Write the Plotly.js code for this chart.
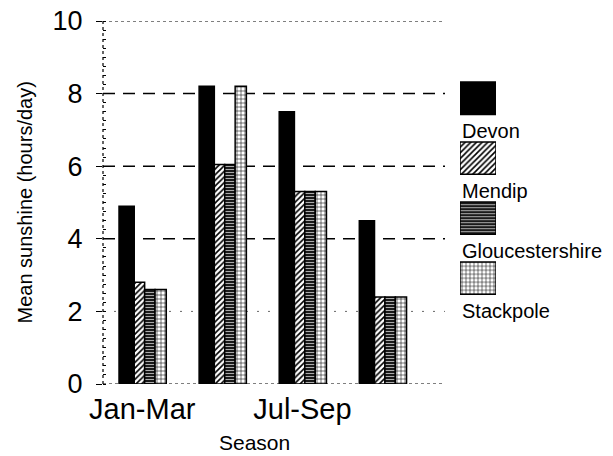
<!DOCTYPE html>
<html><head><meta charset="utf-8">
<script src="https://cdn.plot.ly/plotly-3.0.1.min.js"></script>
<style>html,body{margin:0;padding:0;background:#fff}</style>
</head><body><div id="chart" style="width:613px;height:456px"></div>
<script>
const seasons = ['Jan-Mar', 'Apr-Jun', 'Jul-Sep', 'Oct-Dec'];
const shownTicks = ['Jan-Mar', 'Jul-Sep'];
const seriesNames = ['Devon', 'Mendip', 'Gloucestershire', 'Stackpole'];
const devon = [4.9, 8.2, 7.5, 4.5];
const mendip = [2.8, 6.05, 5.3, 2.4];
const gloucestershire = [2.6, 6.05, 5.3, 2.4];
const stackpole = [2.6, 8.2, 5.3, 2.4];
const yTicks = [0, 2, 4, 6, 8, 10];
const dashedGrid = [4, 6, 8];
const dottedGrid = [2];

const FONT = 'Liberation Sans, Arial, sans-serif';
const values = [devon, mendip, gloucestershire, stackpole];
const markers = [
  {color: '#000', line: {color: '#000', width: 1.5}},
  {color: '#fff', line: {color: '#000', width: 1.5},
   pattern: {shape: '/', fgcolor: '#000', bgcolor: '#fff', size: 4, solidity: 0.4}},
  {color: '#1a1a1a', line: {color: '#000', width: 1.5},
   pattern: {shape: '-', fgcolor: '#bbb', bgcolor: '#1a1a1a', size: 3, solidity: 0.3}},
  {color: '#fff', line: {color: '#000', width: 1.5},
   pattern: {shape: '+', fgcolor: '#000', bgcolor: '#fff', size: 4, solidity: 0.25}}
];
const offsets = [-0.29, -0.10, 0.03, 0.16];
const widths = [0.19, 0.13, 0.13, 0.14];

const traces = [];
seriesNames.forEach((name, i) => {
  traces.push({
    type: 'bar', name: name, x: seasons, y: values[i],
    offset: offsets[i], width: widths[i],
    marker: markers[i], showlegend: false, hoverinfo: 'x+y+name'
  });
});
// custom legend swatches
seriesNames.forEach((name, i) => {
  traces.push({
    type: 'bar', orientation: 'h', x: [1], y: [name],
    xaxis: 'x2', yaxis: 'y2', offset: -0.27, width: 0.54,
    marker: markers[i], showlegend: false, hoverinfo: 'skip'
  });
});

const shapes = [];
dashedGrid.forEach(v => shapes.push({type: 'line', layer: 'below', xref: 'x domain', yref: 'y',
  x0: 0, x1: 1, y0: v, y1: v, line: {color: '#000', width: 1.5, dash: '12px,8px'}}));
dottedGrid.forEach(v => shapes.push({type: 'line', layer: 'below', xref: 'x domain', yref: 'y',
  x0: 0, x1: 1, y0: v, y1: v, line: {color: '#666', width: 1, dash: '2px,9px'}}));
[yTicks[0], yTicks[yTicks.length - 1]].forEach(v => shapes.push({type: 'line', layer: 'below',
  xref: 'x domain', yref: 'y', x0: 0, x1: 1, y0: v, y1: v,
  line: {color: '#000', width: 1.2, dash: 'dot'}}));
shapes.push({type: 'line', layer: 'below', xref: 'x domain', yref: 'y domain',
  x0: 0, x1: 0, y0: 0, y1: 1, line: {color: '#000', width: 1.2, dash: 'dot'}});

const annotations = seriesNames.map(name => ({
  xref: 'x2 domain', yref: 'y2', x: 0, y: name, xanchor: 'left', yanchor: 'middle',
  yshift: -33, xshift: 0, showarrow: false, text: name,
  font: {family: FONT, size: 20, color: '#000'}
}));
annotations.push({xref: 'paper', yref: 'paper', x: 0.302, y: -0.16, xanchor: 'center',
  yanchor: 'middle', showarrow: false, text: 'Season', font: {family: FONT, size: 21, color: '#000'}});
annotations.push({xref: 'paper', yref: 'paper', x: -0.158, y: 0.5, xanchor: 'center',
  yanchor: 'middle', textangle: -90, showarrow: false, text: 'Mean sunshine (hours/day)',
  font: {family: FONT, size: 20, color: '#000'}});

const layout = {
  width: 613, height: 456,
  margin: {l: 103, r: 10, t: 21, b: 72},
  paper_bgcolor: '#fff', plot_bgcolor: 'rgba(0,0,0,0)',
  barmode: 'overlay',
  font: {family: FONT, color: '#000'},
  xaxis: {
    domain: [0, 0.684], type: 'category', categoryarray: seasons,
    range: [-0.49, 3.78], tickvals: shownTicks, ticktext: shownTicks,
    showgrid: false, showline: false, zeroline: false, ticks: '',
    ticklabelstandoff: 5,
    tickfont: {family: FONT, size: 29, color: '#000'}
  },
  yaxis: {
    range: [0, 10], tickvals: yTicks, showgrid: false, zeroline: false, showline: false,
    ticks: 'outside', ticklen: 6, tickwidth: 1, tickcolor: '#000',
    ticklabelstandoff: 8,
    minor: {ticks: 'inside', ticklen: 3, dtick: 0.25, tickcolor: '#000', tickwidth: 1},
    tickfont: {family: FONT, size: 27, color: '#000'}
  },
  xaxis2: {domain: [0.714, 0.786], range: [0, 1], visible: false, anchor: 'y2', fixedrange: true},
  yaxis2: {domain: [0.209, 0.870], type: 'category', categoryarray: seriesNames,
    range: [3.5, -0.5], visible: false, anchor: 'x2', fixedrange: true},
  shapes: shapes,
  annotations: annotations
};

Plotly.newPlot('chart', traces, layout, {displayModeBar: false, staticPlot: true});
</script>
</body></html>
